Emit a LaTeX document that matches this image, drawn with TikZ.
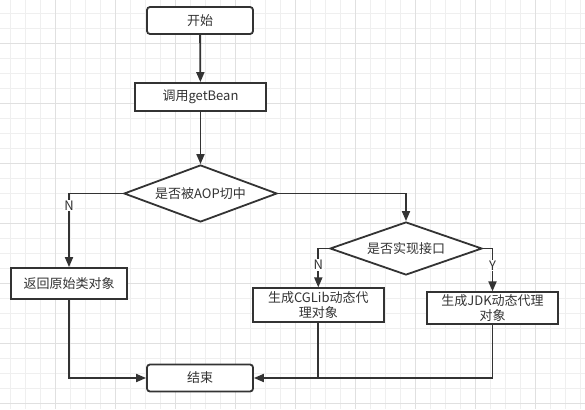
\documentclass[tikz,border=0pt]{standalone}
\usepackage{fontspec}
\setmainfont{Noto Sans CJK SC}
\usetikzlibrary{shapes.geometric,arrows.meta}
\definecolor{ink}{HTML}{333333}
\definecolor{gridminor}{HTML}{EFEFEF}
\definecolor{gridmajor}{HTML}{E0E0E0}
\tikzset{
  base/.style={draw=ink, line width=1.8pt, text=ink, fill=white, inner sep=1pt, align=center,
    font=\fontsize{13}{15}\selectfont},
  term/.style={base, rounded corners=3pt, minimum width=106pt, minimum height=27pt},
  proc/.style={base, minimum width=#1, minimum height=30pt},
  dec/.style={base, diamond, inner sep=0pt, shape aspect=2.8},
  conn/.style={draw=ink, line width=1.8pt},
  arr/.style={conn, -{Triangle[length=10pt,width=8pt]}},
  lbl/.style={fill=white, text=ink, inner sep=1pt, font=\fontsize{13}{14}\selectfont},
}
\begin{document}
\begin{tikzpicture}[x=1pt,y=-1pt]
\useasboundingbox (0,0) rectangle (585,409);
\fill[white] (0,0) rectangle (585,409);
\foreach \i in {0,...,38} {\draw[gridminor, line width=1pt] (10.7+15*\i,0) -- (10.7+15*\i,409);}
\foreach \j in {0,...,27} {\draw[gridminor, line width=1pt] (0,13.3+15*\j) -- (585,13.3+15*\j);}
\foreach \i in {0,...,9} {\draw[gridmajor, line width=1pt] (55.7+60*\i,0) -- (55.7+60*\i,409);}
\foreach \j in {0,...,6} {\draw[gridmajor, line width=1pt] (0,43.3+60*\j) -- (585,43.3+60*\j);}

\node[term] (start) at (200,20.5) {开始};
\node[proc=131pt, minimum height=28pt] (gb) at (200.5,97) {调用getBean};
\node[dec, minimum width=153pt, minimum height=57pt] (d1) at (200.5,193.5) {是否被AOP切中};
\node[proc=116pt, minimum height=31pt] (lb) at (69,283.5) {返回原始类对象};
\node[dec, minimum width=152pt, minimum height=53pt] (d2) at (406,248.5) {是否实现接口};
\node[proc=131pt, minimum height=34pt] (cg) at (318.3,305.3) {生成CGLib动态代\\理对象};
\node[proc=131pt, minimum height=32pt] (jdk) at (492.5,308.3) {生成JDK动态代理\\对象};
\node[term] (end) at (200,378) {结束};

\draw[arr] (start) -- (gb);
\draw[arr] (gb) -- (d1);
\draw[arr] (d1.west) -| (lb.north) node[lbl, pos=0.58] {N};
\draw[arr] (d1.east) -| (d2.north);
\draw[arr] (d2.west) -| (cg.north) node[lbl, pos=0.71] {N};
\draw[arr] (d2.east) -| (jdk.north) node[lbl, pos=0.70] {Y};
\draw[arr] (lb.south) |- (end.west);
\draw[arr] (cg.south) |- (end.east);
\coordinate (m) at (cg.south |- end.east);
\draw[conn] (jdk.south) |- (m);
\end{tikzpicture}
\end{document}
